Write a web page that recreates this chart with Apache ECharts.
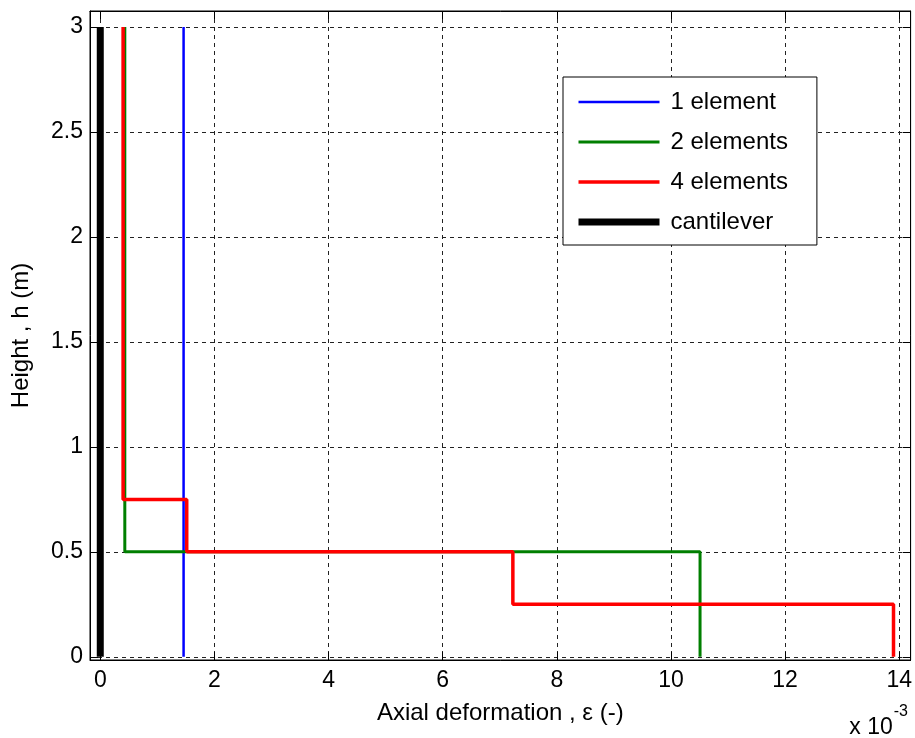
<!DOCTYPE html>
<html>
<head>
<meta charset="utf-8">
<script src="https://cdn.jsdelivr.net/npm/echarts@6/dist/echarts.min.js"></script>
<style>
  html, body { margin: 0; padding: 0; background: #fff; }
  #chart { width: 915px; height: 738px; }
</style>
</head>
<body>
<div id="chart"></div>
<script>
// Axial strain along the height of the wall (strain in units of 1e-3)
const xTicks = [0, 2, 4, 6, 8, 10, 12, 14];
const yTicks = [0, 0.5, 1, 1.5, 2, 2.5, 3];

// Element boundaries (height, m) and the constant strain in each element
const oneElemBounds = [0, 3];
const oneElemStrain = [1.46];

const twoElemBounds = [0, 0.5, 3];
const twoElemStrain = [10.51, 0.43];

const fourElemBounds = [0, 0.25, 0.5, 0.75, 3];
const fourElemStrain = [13.9, 7.23, 1.515, 0.40];

const cantileverBounds = [0, 3];
const cantileverStrain = [0];

const seriesNames = ['1 element', '2 elements', '4 elements', 'cantilever'];
const seriesColors = ['#0000ff', '#007f00', '#ff0000', '#000000'];
const seriesWidths = [2.5, 3, 3.5, 7];

// Turn per-element values into a stepped profile: one vertical segment per element
function stepProfile(bounds, strain) {
  const pts = [];
  for (let i = 0; i < strain.length; i++) {
    pts.push([strain[i], bounds[i]]);
    pts.push([strain[i], bounds[i + 1]]);
  }
  return pts;
}

const profiles = [
  stepProfile(oneElemBounds, oneElemStrain),
  stepProfile(twoElemBounds, twoElemStrain),
  stepProfile(fourElemBounds, fourElemStrain),
  stepProfile(cantileverBounds, cantileverStrain)
];

const FONT = 'Liberation Sans, Arial, sans-serif';
const TICK_FS = 23;
const TEXT_FS = 24;
const X_MIN = -0.18, X_MAX = 14.2;
const Y_MIN = -0.015, Y_MAX = 3.076;

const gridLine = { show: true, lineStyle: { color: '#222', width: 1, type: [4, 4] } };
const axisLineStyle = { show: true, onZero: false, lineStyle: { color: '#000', width: 1 } };

const chart = echarts.init(document.getElementById('chart'), null, { renderer: 'canvas' });

chart.setOption({
  animation: false,
  backgroundColor: '#fff',
  grid: { left: 90, right: 2, top: 11, bottom: 78, show: true, borderColor: '#000', borderWidth: 1 },
  xAxis: [
    {
      type: 'value', min: X_MIN, max: X_MAX, position: 'bottom',
      axisLine: axisLineStyle,
      axisTick: { show: true, inside: true, length: 8, customValues: xTicks, lineStyle: { color: '#000' } },
      axisLabel: { customValues: xTicks, color: '#000', fontSize: TICK_FS, fontFamily: FONT, margin: 9 },
      splitLine: gridLine,
      name: 'Axial deformation , \u03b5 (-)',
      nameLocation: 'middle', nameGap: 41,
      nameTextStyle: { color: '#000', fontSize: TEXT_FS, fontFamily: FONT }
    },
    {
      type: 'value', min: X_MIN, max: X_MAX, position: 'top',
      axisLine: axisLineStyle,
      axisTick: { show: true, inside: true, length: 8, customValues: xTicks, lineStyle: { color: '#000' } },
      axisLabel: { show: false },
      splitLine: { show: false }
    }
  ],
  yAxis: [
    {
      type: 'value', min: Y_MIN, max: Y_MAX, position: 'left',
      axisLine: axisLineStyle,
      axisTick: { show: true, inside: true, length: 8, customValues: yTicks, lineStyle: { color: '#000' } },
      axisLabel: { customValues: yTicks, color: '#000', fontSize: TICK_FS, fontFamily: FONT, margin: 7 },
      splitLine: gridLine,
      name: 'Height , h (m)',
      nameLocation: 'middle', nameGap: 57,
      nameTextStyle: { color: '#000', fontSize: TEXT_FS, fontFamily: FONT }
    },
    {
      type: 'value', min: Y_MIN, max: Y_MAX, position: 'right',
      axisLine: axisLineStyle,
      axisTick: { show: true, inside: true, length: 8, customValues: yTicks, lineStyle: { color: '#000' } },
      axisLabel: { show: false },
      splitLine: { show: false }
    }
  ],
  legend: {
    data: seriesNames,
    orient: 'vertical',
    left: 563, top: 77,
    itemWidth: 81, itemHeight: 14, itemGap: 16,
    padding: [13, 29, 11, 12],
    backgroundColor: '#fff',
    borderColor: '#000', borderWidth: 1, borderRadius: 0,
    itemStyle: { opacity: 0 },
    lineStyle: { width: 'inherit' },
    textStyle: { color: '#000', fontSize: TEXT_FS, lineHeight: 24, fontFamily: FONT, padding: [0, 0, 0, 6] }
  },
  graphic: [
    {
      type: 'text', right: 7, top: 704,
      style: {
        text: '{b|x 10}{s|-3}',
        rich: {
          b: { fontSize: TICK_FS, fontFamily: FONT, fill: '#000', padding: [12, 0, 0, 0] },
          s: { fontSize: 16, fontFamily: FONT, fill: '#000', verticalAlign: 'top', padding: [0, 0, 12, 1] }
        }
      }
    }
  ],
  series: profiles.map((pts, i) => ({
    name: seriesNames[i],
    type: 'line',
    data: pts,
    showSymbol: false,
    symbol: 'none',
    color: seriesColors[i],
    lineStyle: { color: seriesColors[i], width: seriesWidths[i] },
    z: 3 + i
  }))
});
</script>
</body>
</html>
